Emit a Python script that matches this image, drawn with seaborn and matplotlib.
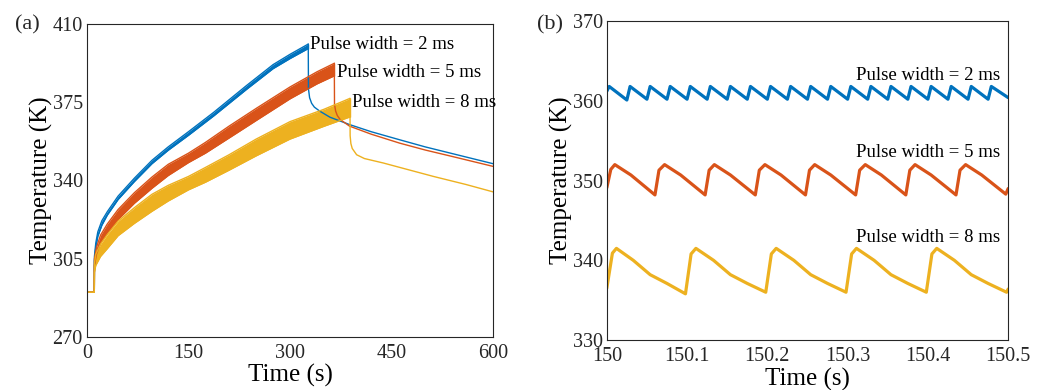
import numpy as np
import pandas as pd
import seaborn as sns
import matplotlib.pyplot as plt

# colours of the three pulse widths
colors = {'2 ms': '#0072BD', '5 ms': '#D95319', '8 ms': '#EDB120'}

# ---------------- panel (a): 0 - 600 s ----------------
# pulsing phase, drawn as envelope (lower / upper) of the fast oscillation
t_2ms_on = [0, 10.8, 11, 13, 16, 22, 30, 46, 70, 96, 120, 150, 187, 236, 275, 300, 327]
lo_2ms_on = [290, 290, 304, 310, 315, 320, 324.5, 331.5, 339.5, 347.5, 353.5, 360.2, 368.8, 380.8, 390, 394.5, 399]
hi_2ms_on = [290, 290, 306, 312, 317, 322, 326, 333, 341, 349, 355, 361.8, 370.4, 382.5, 391.8, 396.4, 401]

t_5ms_on = [0, 10.8, 11, 14, 20, 30, 46, 70, 96, 120, 150, 175, 210, 251, 300, 340, 365.5]
lo_5ms_on = [290, 290, 302, 307, 312, 316.5, 322.5, 329.8, 336.5, 342.2, 348.0, 352.2, 359.0, 367.0, 376.5, 383.2, 386.8]
hi_5ms_on = [290, 290, 305, 310, 315.5, 320.5, 327, 334.5, 341.5, 347.2, 352.2, 357.0, 364.3, 372.4, 381.8, 388.6, 392.4]

t_8ms_on = [0, 10.8, 11, 13, 20, 30, 46, 70, 96, 120, 150, 175, 210, 250, 300, 350, 388.6]
lo_8ms_on = [290, 290, 299, 302, 306, 309.5, 315.3, 320.8, 326.2, 330.8, 335.8, 339.2, 344.6, 351.0, 358.5, 364.2, 368.4]
hi_8ms_on = [290, 290, 303, 307, 311.5, 315.8, 321.8, 327.8, 333.8, 337.8, 341.8, 345.8, 351.5, 358.5, 366.3, 371.8, 376.7]

# cooling phase after the laser is switched off
t_2ms_off = [327, 327.3, 329, 332, 336, 344, 359, 388, 420, 462, 500, 536, 600]
T_2ms_off = [401, 381, 377, 374.5, 372.8, 371, 368.3, 365, 361.8, 358.2, 355, 352.3, 347.5]
t_5ms_off = [365.5, 365.8, 367.5, 370, 374, 388, 420, 462, 500, 536, 600]
T_5ms_off = [392.4, 374, 371, 369, 367.3, 364.3, 360.7, 356.7, 353.6, 351, 346.3]
t_8ms_off = [388.6, 388.9, 390, 392, 398.5, 410, 438, 470, 512, 560, 600]
T_8ms_off = [376.7, 360, 356.5, 354.3, 351.5, 349.8, 347.8, 345.2, 341.8, 338.2, 334.9]

# ---------------- panel (b): 150 - 150.5 s ----------------
t_2ms = [150.0, 150.003, 150.025, 150.029, 150.050, 150.054, 150.075, 150.079, 150.100, 150.104,
         150.125, 150.129, 150.150, 150.154, 150.175, 150.179, 150.200, 150.204, 150.225, 150.229,
         150.250, 150.254, 150.275, 150.279, 150.300, 150.304, 150.325, 150.329, 150.350, 150.354,
         150.375, 150.379, 150.400, 150.404, 150.425, 150.429, 150.450, 150.454, 150.475, 150.479,
         150.5]
T_2ms = [361.2, 361.8, 360.1, 361.8, 360.2, 361.8, 360.2, 361.8, 360.2, 361.8,
         360.2, 361.8, 360.2, 361.8, 360.2, 361.8, 360.2, 361.8, 360.2, 361.8,
         360.2, 361.8, 360.2, 361.8, 360.2, 361.8, 360.2, 361.8, 360.2, 361.8,
         360.2, 361.8, 360.2, 361.8, 360.2, 361.8, 360.2, 361.8, 360.2, 361.8,
         360.4]

t_5ms = [150.0, 150.005, 150.010, 150.030, 150.060,
         150.065, 150.072, 150.092, 150.1225,
         150.1275, 150.134, 150.154, 150.185,
         150.190, 150.197, 150.217, 150.2475,
         150.2525, 150.259, 150.279, 150.310,
         150.315, 150.322, 150.342, 150.3725,
         150.3775, 150.384, 150.404, 150.435,
         150.440, 150.447, 150.467, 150.497, 150.5]
T_5ms = [349.1, 351.4, 352.0, 350.7, 348.2,
         351.3, 352.0, 350.7, 348.2,
         351.3, 352.0, 350.7, 348.2,
         351.3, 352.0, 350.7, 348.2,
         351.3, 352.0, 350.7, 348.2,
         351.3, 352.0, 350.7, 348.2,
         351.3, 352.0, 350.7, 348.2,
         351.3, 352.0, 350.7, 348.3, 349.0]

t_8ms = [150.0, 150.007, 150.012, 150.033, 150.054, 150.075, 150.098,
         150.105, 150.111, 150.133, 150.154, 150.175, 150.198,
         150.205, 150.211, 150.233, 150.254, 150.275, 150.298,
         150.305, 150.311, 150.333, 150.354, 150.375, 150.398,
         150.405, 150.411, 150.433, 150.454, 150.475, 150.498, 150.5]
T_8ms = [336.5, 340.9, 341.5, 340.0, 338.2, 337.1, 335.8,
         340.8, 341.5, 340.0, 338.2, 337.1, 336.0,
         340.8, 341.5, 340.0, 338.2, 337.1, 336.0,
         340.8, 341.5, 340.0, 338.2, 337.1, 336.0,
         340.8, 341.5, 340.0, 338.2, 337.1, 336.0, 336.4]

sns.set_style('white')
plt.rcParams['font.family'] = ['Liberation Serif', 'DejaVu Serif']
grey = '#262626'

fig = plt.figure(figsize=(10.48, 3.9), dpi=100)
ax1 = fig.add_axes([0.083, 0.136, 0.3874, 0.8026])
ax2 = fig.add_axes([0.579, 0.128, 0.383, 0.818])

# panel (a)
bands = [
    ('2 ms', t_2ms_on, lo_2ms_on, hi_2ms_on, t_2ms_off, T_2ms_off),
    ('5 ms', t_5ms_on, lo_5ms_on, hi_5ms_on, t_5ms_off, T_5ms_off),
    ('8 ms', t_8ms_on, lo_8ms_on, hi_8ms_on, t_8ms_off, T_8ms_off),
]
for name, t_on, lo, hi, t_off, T_off in bands:
    c = colors[name]
    ax1.fill_between(t_on, lo, hi, color=c, linewidth=0)
    sns.lineplot(x=t_on, y=lo, ax=ax1, color=c, lw=1.0, sort=False, estimator=None)
    sns.lineplot(x=t_on, y=hi, ax=ax1, color=c, lw=1.0, sort=False, estimator=None)
    ax1.vlines(t_on[-1], lo[-1], hi[-1], color=c, lw=1.0)
    sns.lineplot(x=t_off, y=T_off, ax=ax1, color=c, lw=1.0, sort=False, estimator=None)

ax1.text(330, 400.7, 'Pulse width = 2 ms', fontsize=13.5, va='center', ha='left', color='black')
ax1.text(370, 388.3, 'Pulse width = 5 ms', fontsize=13.5, va='center', ha='left', color='black')
ax1.text(391, 374.7, 'Pulse width = 8 ms', fontsize=13.5, va='center', ha='left', color='black')

ax1.set_xlim(0, 600)
ax1.set_ylim(270, 410)
ax1.set_xticks([0, 150, 300, 450, 600])
ax1.set_yticks([270, 305, 340, 375, 410])

# panel (b)
for name, t, T in [('2 ms', t_2ms, T_2ms), ('5 ms', t_5ms, T_5ms), ('8 ms', t_8ms, T_8ms)]:
    sns.lineplot(x=t, y=T, ax=ax2, color=colors[name], lw=2.3, sort=False, estimator=None)

ax2.text(150.49, 363.2, 'Pulse width = 2 ms', fontsize=13.5, va='center', ha='right', color='black')
ax2.text(150.49, 353.5, 'Pulse width = 5 ms', fontsize=13.5, va='center', ha='right', color='black')
ax2.text(150.49, 342.9, 'Pulse width = 8 ms', fontsize=13.5, va='center', ha='right', color='black')

ax2.set_xlim(150, 150.5)
ax2.set_ylim(330, 370)
ax2.set_xticks([150, 150.1, 150.2, 150.3, 150.4, 150.5])
ax2.set_xticklabels(['150', '150.1', '150.2', '150.3', '150.4', '150.5'])
ax2.set_yticks([330, 340, 350, 360, 370])

for ax in (ax1, ax2):
    ax.set_xlabel('Time (s)', fontsize=18, labelpad=1, color='black')
    ax.set_ylabel('Temperature (K)', fontsize=18, labelpad=0, color='black')
    ax.tick_params(direction='in', length=4, width=0.8, labelsize=14.5, colors=grey, pad=3)
    ax.tick_params(axis='x', pad=5)
    for s in ax.spines.values():
        s.set_color(grey)
        s.set_linewidth(0.8)

fig.text(0.014, 0.935, '(a)', fontsize=16, ha='left', va='center')
fig.text(0.512, 0.935, '(b)', fontsize=16, ha='left', va='center')

fig.savefig('out.png', dpi=100)
